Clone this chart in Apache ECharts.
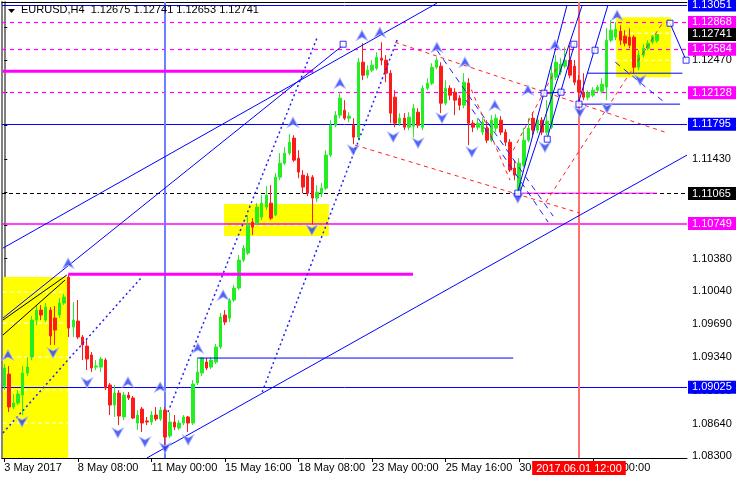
<!DOCTYPE html>
<html><head><meta charset="utf-8">
<script src="https://cdn.jsdelivr.net/npm/echarts@6/dist/echarts.min.js"></script>
<style>html,body{margin:0;padding:0;background:#fff}#c{width:736px;height:480px}</style>
</head><body><div id="c"></div>
<script>
// ---------- DATA ----------
const symbolName = 'EURUSD,H4';
const opens = [1.09037,1.09163,1.08816,1.08858,1.08942,1.09174,1.09342,1.09732,1.09837,1.09732,
1.09837,1.09753,1.09785,1.09911,1.10185,1.09658,1.09722,1.09553,1.09458,1.09364,
1.09237,1.09237,1.09311,1.09048,1.08837,1.08963,1.08711,1.08942,1.08911,1.08647,
1.08795,1.08669,1.08658,1.08732,1.08690,1.08784,1.08511,1.08658,1.08595,1.08647,
1.08711,1.08647,1.09069,1.09174,1.09290,1.09237,1.09290,1.09448,1.09785,1.09753,
1.09943,1.10069,1.10364,1.10438,1.10764,1.10753,1.10817,1.10922,1.10964,1.10838,
1.11238,1.11385,1.11491,1.11649,1.11438,1.11259,1.11248,1.11238,1.11017,1.11069,
1.11122,1.11470,1.11785,1.11891,1.11943,1.11859,1.11785,1.11659,1.12449,1.12312,
1.12365,1.12386,1.12491,1.12470,1.12333,1.12080,1.11806,1.11859,1.11764,1.11775,
1.11922,1.11764,1.12175,1.12228,1.12396,1.12407,1.12017,1.12175,1.12133,1.12070,
1.11996,1.12228,1.11806,1.11764,1.11712,1.11754,1.11627,1.11754,1.11838,1.11712,
1.11606,1.11333,1.11101,1.11364,1.11627,1.11859,1.11733,1.11838,1.11712,1.11764,
1.12291,1.12344,1.12407,1.12470,1.12407,1.12259,1.12133,1.12080,1.12101,1.12154,
1.12143,1.12186,1.12680,1.12712,1.12775,1.12723,1.12712,1.12712,1.12396,1.12523,
1.12596,1.12659,1.12675];
const highs = [1.09269,1.09248,1.08953,1.08995,1.09248,1.09342,1.09774,1.09890,1.09890,1.09911,
1.09869,1.09880,1.09964,1.10006,1.10216,1.09922,1.09943,1.09574,1.09521,1.09395,
1.09311,1.09342,1.09332,1.09069,1.09048,1.08995,1.08974,1.08974,1.08932,1.08784,
1.08816,1.08711,1.08774,1.08816,1.08816,1.08816,1.08763,1.08732,1.08679,1.08732,
1.08721,1.09100,1.09342,1.09342,1.09332,1.09342,1.09479,1.09806,1.09837,1.09964,
1.10101,1.10417,1.10522,1.10838,1.10806,1.10964,1.11048,1.11143,1.11154,1.11280,
1.11491,1.11554,1.11691,1.11680,1.11522,1.11312,1.11280,1.11259,1.11154,1.11175,
1.11522,1.11838,1.11933,1.12133,1.12049,1.11922,1.11859,1.12491,1.12649,1.12417,
1.12470,1.12554,1.12659,1.12523,1.12365,1.12154,1.11912,1.11912,1.11922,1.12007,
1.11964,1.12207,1.12280,1.12438,1.12501,1.12449,1.12259,1.12207,1.12175,1.12101,
1.12333,1.12280,1.11838,1.11859,1.11870,1.11838,1.11891,1.11901,1.11880,1.11743,
1.11638,1.11417,1.11438,1.11754,1.11859,1.11922,1.11880,1.11870,1.12049,1.12417,
1.12523,1.12491,1.12607,1.12628,1.12470,1.12312,1.12333,1.12154,1.12186,1.12207,
1.12280,1.12807,1.12891,1.12870,1.12838,1.12786,1.12807,1.12733,1.12575,1.12638,
1.12680,1.12733,1.12741];
const lows = [1.08995,1.08763,1.08795,1.08837,1.08732,1.09142,1.09311,1.09679,1.09732,1.09711,
1.09469,1.09469,1.09753,1.09890,1.09553,1.09553,1.09532,1.09311,1.09206,1.09185,
1.09206,1.09185,1.08995,1.08732,1.08711,1.08626,1.08679,1.08890,1.08690,1.08574,
1.08553,1.08626,1.08626,1.08669,1.08669,1.08384,1.08490,1.08574,1.08574,1.08626,
1.08553,1.08626,1.09048,1.09142,1.09206,1.09216,1.09269,1.09427,1.09679,1.09711,
1.09922,1.10048,1.10343,1.10417,1.10627,1.10732,1.10785,1.10890,1.10785,1.10827,
1.11206,1.11364,1.11470,1.11396,1.11227,1.11069,1.11038,1.10743,1.10975,1.11027,
1.11101,1.11448,1.11764,1.11859,1.11838,1.11817,1.11585,1.11627,1.12259,1.12280,
1.12344,1.12365,1.12417,1.12238,1.11806,1.11764,1.11775,1.11733,1.11733,1.11659,
1.11754,1.11733,1.12154,1.12207,1.12375,1.11912,1.11996,1.12049,1.11891,1.11943,
1.11964,1.11575,1.11712,1.11733,1.11680,1.11596,1.11606,1.11712,1.11680,1.11564,
1.11291,1.11206,1.11069,1.11343,1.11606,1.11680,1.11701,1.11680,1.11680,1.11743,
1.12259,1.12312,1.12386,1.12280,1.12207,1.12007,1.12049,1.12049,1.12080,1.12133,
1.12122,1.12049,1.12659,1.12680,1.12628,1.12617,1.12596,1.12333,1.12365,1.12501,
1.12575,1.12638,1.12653];
const closes = [1.09227,1.08816,1.08858,1.08953,1.09174,1.09237,1.09732,1.09837,1.09785,1.09869,
1.09564,1.09627,1.09911,1.09974,1.09648,1.09732,1.09553,1.09469,1.09321,1.09227,
1.09248,1.09321,1.09016,1.08837,1.08963,1.08721,1.08942,1.08911,1.08700,1.08732,
1.08647,1.08658,1.08732,1.08690,1.08784,1.08500,1.08658,1.08605,1.08647,1.08711,
1.08647,1.09058,1.09185,1.09332,1.09227,1.09311,1.09448,1.09764,1.09711,1.09943,
1.10069,1.10364,1.10490,1.10732,1.10711,1.10922,1.10964,1.11048,1.10806,1.11238,
1.11385,1.11491,1.11606,1.11417,1.11291,1.11133,1.11069,1.11017,1.11080,1.11122,
1.11470,1.11785,1.11891,1.12070,1.11859,1.11880,1.11659,1.12449,1.12312,1.12365,
1.12417,1.12501,1.12470,1.12333,1.11912,1.11806,1.11859,1.11764,1.11870,1.11964,
1.11785,1.12175,1.12228,1.12396,1.12470,1.12017,1.12175,1.12101,1.12049,1.11996,
1.12238,1.11806,1.11764,1.11806,1.11817,1.11627,1.11838,1.11859,1.11712,1.11606,
1.11312,1.11259,1.11385,1.11627,1.11754,1.11733,1.11838,1.11712,1.11828,1.12333,
1.12449,1.12428,1.12470,1.12312,1.12238,1.12133,1.12080,1.12122,1.12154,1.12186,
1.12217,1.12680,1.12786,1.12796,1.12680,1.12649,1.12628,1.12396,1.12523,1.12596,
1.12649,1.12723,1.12741];

const slotCount = 149;                      // bars + empty right shift
const xTickLabels = ['3 May 2017','8 May 08:00','11 May 00:00','15 May 16:00','18 May 08:00','23 May 00:00','25 May 16:00','30 May 08:00','2 Jun 00:00'];
const yTicks = [1.0830,1.0864,1.0899,1.0934,1.0969,1.1004,1.1038,1.1073,1.1108,1.1143,1.1178,1.1213,1.1247,1.1282];

// price levels with labels on the axis
const levelPrices = [1.13051,1.12868,1.12741,1.12584,1.12128,1.11795,1.11065,1.10749,1.09025];
const levelKinds  = ['blue','magentaDash','price','magentaDash','magentaDash','blue','blackDash','magenta','blue'];

// partial horizontal segments [startBar, endBar, price]
const magentaThick = [[-0.3, 67.2, 1.12354],[13.9, 88.9, 1.10216]];
const blueSegments  = [[42.1, 110.7, 1.09332],[126.8, 147.5, 1.12333],[125.0, 147.0, 1.12007]];
const magentaThin   = [[111.7, 142.0, 1.11069]];

// trend lines [[bar, price],[bar, price]]
const blueSolidLines = [
  [[-0.3,1.10490],[94.1,1.13070]],
  [[-0.3,1.09753],[73.7,1.12628]],
  [[31.0,1.08279],[148.5,1.11470]],
  [[111.7,1.11080],[122.4,1.13049]],
  [[112.2,1.11080],[125.7,1.13049]],
  [[118.1,1.11649],[124.1,1.12649]],
  [[124.8,1.12007],[131.3,1.13049]],
  [[117.4,1.12122],[121.1,1.12133]],
  [[144.8,1.12859],[148.3,1.12470]]
];
const blueDottedLines = [
  [[-0.3,1.08542],[29.9,1.10185]],
  [[56.1,1.08974],[85.6,1.12702]],
  [[35.6,1.08763],[68.0,1.12702]]
];
const blueDashedLines = [
  [[94.1,1.12575],[119.4,1.10827]],
  [[100.4,1.12049],[118.3,1.10764]],
  [[132.9,1.12449],[143.3,1.12038]]
];
const redDashedLines = [
  [[85.0,1.12659],[143.7,1.11712]],
  [[76.3,1.11575],[125.2,1.10859]],
  [[117.8,1.10975],[143.3,1.12870]],
  [[100.9,1.12238],[110.0,1.11206]],
  [[110.7,1.11522],[120.2,1.12396]]
];
const blackLines = [
  [[-0.3,1.09732],[13.6,1.10206]],
  [[-0.3,1.09574],[13.2,1.10153]]
];
// yellow boxes [bar1, price1, bar2, price2]
const yellowBoxes = [[-0.3,1.10185,13.9,1.08279],[47.8,1.10954,70.6,1.10617],[133.1,1.12923,145.0,1.12291]];
const whiteDashes = [[-0.3,13.9,1.10027],[-0.3,13.9,1.09700],[-0.3,13.9,1.09342],[-0.3,13.9,1.08995],[-0.3,13.9,1.08647],
                     [47.8,70.6,1.10732],[133.1,145.0,1.12754],[133.1,145.0,1.12470]];
// vertical lines (bar index)
const blueVLineBar = 35;
const redVLineBar = 125;
// arrows [bar, price]
const upArrows = [[13.9,1.10332],[0.8,1.09364],[26.9,1.09079],[33.9,1.09027],[42.1,1.09437],[47.6,1.09995],[62.8,1.11817],
  [73.0,1.12228],[77.8,1.12733],[81.7,1.12765],[94.1,1.12607],[100.2,1.12449],[106.7,1.11996],[113.9,1.12154],[119.8,1.12628],[133.3,1.12944]];
const downArrows = [[10.6,1.09385],[3.85,1.08658],[18.0,1.09069],[24.7,1.08542],[30.6,1.08447],[35.0,1.08384],[40.0,1.08468],
  [66.9,1.10680],[75.9,1.11522],[84.6,1.11659],[90.0,1.11596],[95.2,1.11859],[101.7,1.11501],[111.7,1.11017],[117.6,1.11554],
  [125.2,1.11922],[131.1,1.11964],[138.3,1.12259]];
const squares = [[73.7,1.12638],[111.7,1.11069],[117.4,1.12122],[121.1,1.12133],[123.9,1.12638],[128.5,1.12575],[118.1,1.11638],[125.0,1.12007],[144.8,1.12859],[148.3,1.12470]];

// ---------- BUILD ----------
const MON = ['Jan','Feb','Mar','Apr','May','Jun','Jul','Aug','Sep','Oct','Nov','Dec'];
const times = [];
let t = Date.UTC(2017,4,3,16);
while (times.length < slotCount) {
  const d = new Date(t);
  if (d.getUTCDay() !== 0 && d.getUTCDay() !== 6) times.push(d);
  t += 4*3600*1000;
}
const pad = n => (n<10?'0':'')+n;
const categories = times.map(d => d.getUTCDate()+' '+MON[d.getUTCMonth()]+' '+pad(d.getUTCHours())+':00');
const fullStamp = d => d.getUTCFullYear()+'.'+pad(d.getUTCMonth()+1)+'.'+pad(d.getUTCDate())+' '+pad(d.getUTCHours())+':'+pad(d.getUTCMinutes());

const candleData = opens.map((o,i)=>[o, closes[i], lows[i], highs[i]]);
const last = opens.length-1;
const FONT = 'Liberation Sans, Arial, sans-serif';
const Y_MIN = 1.08279, Y_MAX = 1.13083;

const labelInterval = (idx) => idx % 16 === 0 && idx <= 128;

const levelStyle = {
  blue:        {line:{color:'#0000ff',type:'solid',width:1}, bg:'#0000ff'},
  magentaDash: {line:{color:'#ff00ff',type:[4,4],width:1.2}, bg:'#ff00ff'},
  magenta:     {line:{color:'#ff00ff',type:'solid',width:1.5}, bg:'#ff00ff'},
  blackDash:   {line:{color:'#000000',type:[4,3],width:1}, bg:'#000000'},
  price:       {line:{color:'rgba(0,0,0,0)',width:0}, bg:'#000000'}
};

const series = [];
series.push({
  type:'candlestick', xAxisIndex:0, yAxisIndex:0, data:candleData, barWidth:3, z:5,
  itemStyle:{color:'#22ee22', color0:'#ff1a1a', borderColor:'#22ee22', borderColor0:'#ff1a1a', borderWidth:1},
  emphasis:{disabled:true}, silent:true
});
// yellow boxes
series.push({
  type:'line', xAxisIndex:1, yAxisIndex:0, data:[], z:1, silent:true,
  markArea:{silent:true, itemStyle:{color:'#ffff00', opacity:1},
    data: yellowBoxes.map(b=>[{coord:[b[0],b[1]]},{coord:[b[2],b[3]]}])}
});
function seg(pts, style, z){
  series.push({type:'line', xAxisIndex:1, yAxisIndex:0, data:pts, symbol:'none', z:z||6, silent:true,
    lineStyle:style, animation:false});
}
whiteDashes.forEach(w=>seg([[w[0],w[2]],[w[1],w[2]]],{color:'#ffffff',type:[4,3],width:1},2));
magentaThick.forEach(s=>seg([[s[0],s[2]],[s[1],s[2]]],{color:'#ff00ff',width:3}));
blueSegments.forEach(s=>seg([[s[0],s[2]],[s[1],s[2]]],{color:'#0000ff',width:1}));
magentaThin.forEach(s=>seg([[s[0],s[2]],[s[1],s[2]]],{color:'#ff00ff',width:1}));
blueSolidLines.forEach(l=>seg(l,{color:'#0000ff',width:1}));
blueDottedLines.forEach(l=>seg(l,{color:'#2020ff',type:[2,3],width:1.5}));
blueDashedLines.forEach(l=>seg(l,{color:'#2020ff',type:[6,5],width:1}));
redDashedLines.forEach(l=>seg(l,{color:'#ff2020',type:[4,4],width:1}));
blackLines.forEach(l=>seg(l,{color:'#000000',width:1}));

// levels + verticals
series.push({
  type:'line', xAxisIndex:1, yAxisIndex:0, data:[], z:7, silent:true,
  markLine:{silent:true, symbol:'none', animation:false, precision:5,
    data: levelPrices.map((p,i)=>{
      const st = levelStyle[levelKinds[i]];
      return {yAxis:p, lineStyle:st.line,
        label:{show:true, position:'end', distance:1, formatter:p.toFixed(5), color:'#fff', backgroundColor:st.bg,
          fontFamily:FONT, fontSize:11, padding:[1,6,1,4]}};
    }).concat([
      {xAxis:blueVLineBar, lineStyle:{color:'#6f7dff', type:'solid', width:2}, label:{show:false}},
      {xAxis:redVLineBar, lineStyle:{color:'#ff6f6f', type:'solid', width:2},
        label:{show:true, position:'start', distance:3, formatter:fullStamp(times[redVLineBar]), color:'#fff',
          backgroundColor:'#ff0000', fontFamily:FONT, fontSize:11, padding:[2,4,1,4]}}
    ])}
});
// arrows and squares
series.push({type:'scatter', xAxisIndex:1, yAxisIndex:0, z:8, silent:true, data:upArrows,
  symbol:'path://M5,0 L10,10 L5,7 L0,10 Z', symbolSize:[11,10], itemStyle:{color:'#2a3cf0', borderColor:'#a8b4ff', borderWidth:1}});
series.push({type:'scatter', xAxisIndex:1, yAxisIndex:0, z:8, silent:true, data:downArrows,
  symbol:'path://M0,0 L5,3 L10,0 L5,10 Z', symbolSize:[11,10], itemStyle:{color:'#2a3cf0', borderColor:'#a8b4ff', borderWidth:1}});
series.push({type:'scatter', xAxisIndex:1, yAxisIndex:0, z:8, silent:true, data:squares,
  symbol:'rect', symbolSize:6, itemStyle:{color:'#ffffff', borderColor:'#0000ff', borderWidth:1}});

const chart = echarts.init(document.getElementById('c'), null, {renderer:'canvas'});
chart.setOption({
  animation:false,
  backgroundColor:'#ffffff',
  textStyle:{fontFamily:FONT},
  grid:{left:2, right:49, top:2, bottom:22, containLabel:false},
  xAxis:[
    {type:'category', data:categories, boundaryGap:true, position:'bottom',
      axisLine:{show:true, lineStyle:{color:'#000', width:1}},
      axisTick:{show:true, alignWithLabel:true, interval:labelInterval, length:4, lineStyle:{color:'#000'}},
      axisLabel:{show:true, interval:labelInterval, align:'left', margin:4, color:'#000', fontSize:11, fontFamily:FONT,
        formatter:(v,idx)=>xTickLabels[idx/16] || ''},
      splitLine:{show:false}},
    {type:'value', min:-0.5, max:slotCount-0.5, position:'top',
      axisLine:{show:true, onZero:false, lineStyle:{color:'#000', width:1}},
      axisTick:{show:false}, axisLabel:{show:false}, splitLine:{show:false}}
  ],
  yAxis:[
    {type:'value', position:'right', min:Y_MIN, max:Y_MAX, scale:true,
      axisLine:{show:true, lineStyle:{color:'#808080', width:2}},
      axisTick:{show:true, customValues:yTicks, length:3, inside:false, lineStyle:{color:'#000'}},
      axisLabel:{show:true, customValues:yTicks, formatter:v=>Number(v).toFixed(5), color:'#000', fontSize:11, fontFamily:FONT, margin:5},
      splitLine:{show:false}},
    {type:'value', position:'left', min:Y_MIN, max:Y_MAX,
      axisLine:{show:true, onZero:false, lineStyle:{color:'#808080', width:2}},
      axisTick:{show:false}, axisLabel:{show:false}, splitLine:{show:false}}
  ],
  graphic:[
    {type:'polygon', shape:{points:[[8,9],[15,9],[11.5,13]]}, style:{fill:'#000'}, z:20},
    {type:'text', left:21, top:4, z:20, style:{text: symbolName+'  '+opens[last].toFixed(5)+' '+highs[last].toFixed(5)+' '+lows[last].toFixed(5)+' '+closes[last].toFixed(5),
      fill:'#000', font:'11px '+FONT}}
  ],
  series:series
});
</script></body></html>
